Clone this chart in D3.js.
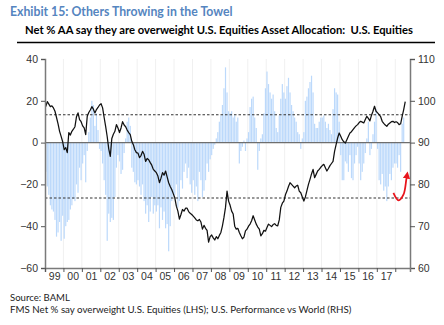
<!DOCTYPE html>
<html>
<head>
<meta charset="utf-8">
<script src="https://cdn.jsdelivr.net/npm/d3@7"></script>
<style>
  body { margin: 0; background: #fff; }
  svg { display: block; }
</style>
</head>
<body>
<div id="chart"></div>
<script>
// monthly FMS net % overweight U.S. equities (LHS), Jan 1999 ->
const fmsNet = [
  -14, -21, -25, -30, -32, -33, -37, -45, -43, -38, -47, -35,
  -46, -40, -38, -37, -32, -30, -27, -28, -20, -24, -12, -18,
  -10, -6, -19, -4, 5, 12, 20, 18, 8, 14, 6, -3,
  -4, -10, -18, -25, -47, -34, -38, -36, -37, -26, -12, -6,
  -9, -15, -13, -5, 2, 10, 12, 8, -12, -14, -19, -20,
  -18, -21, -25, -20, -28, -34, -30, -38, -33, -26, -34, -30,
  -33, -30, -41, -31, -37, -33, -41, -39, -52, -40, -28, -26,
  -25, -20, -31, -28, -18, -22, -14, -10, -17, -12, -20, -24,
  -18, -25, -21, -28, -14, -18, -26, -23, -18, -10, -14, -8,
  -6, -3, -1, 2, 5, 10, 13, 18, 26, 36, 24, 15,
  14, 15, 12, 13, 10, 12, -10, -4, -2, 1, -4, 2,
  5, 17, 21, 22, 12, 7, -13, -4, 2, 4, 14, 26,
  34, 28, 24, 21, 23, 15, 7, 5, 13, 21, 28, 24,
  21, 27, 31, 24, 18, 15, 12, 10, 5, 4, -3, 2,
  5, 20, 22, 26, 29, 32, 24, 9, 7, 7, 10, 12,
  12, 13, 10, 7, 9, 6, 4, 16, 26, 24, 23, 10,
  -6, -18, -18, -9, -10, -14, -6, -17, -18, -10, -6, -2,
  -10, -18, -14, -10, -5, 2, 10, -6, -3, 4, 10, 16,
  -3, -18, -20, -15, -23, -21, -28, -21, -15, -18, -12, -10,
  -10, -12, -6, -14, 9, 12
];

// monthly U.S. performance vs world (RHS), Jan 1999 ->
const usVsWorld = [
  98.6, 99.8, 99.2, 98.6, 98.8, 98.3, 97.5, 96.0, 94.5, 92.7, 91.5, 90.2,
  88.3, 88.8, 87.6, 92.4, 91.8, 92.7, 93.2, 93.8, 96.2, 97.1, 95.5, 95.0,
  94.0, 93.5, 91.9, 96.3, 97.2, 97.8, 98.6, 98.0, 97.1, 97.9, 98.4, 99.0,
  99.3, 98.3, 96.0, 93.8, 91.4, 88.5, 86.7, 91.0, 92.0, 92.7, 94.3, 93.5,
  92.4, 93.5, 95.0, 94.2, 93.8, 93.0, 92.4, 91.9, 90.3, 89.5, 88.3, 87.6,
  87.5, 86.4, 86.9, 87.9, 87.2, 85.5, 86.2, 85.9, 85.2, 84.6, 83.6, 83.2,
  82.8, 82.0, 80.4, 81.5, 82.8, 82.2, 83.2, 81.8, 80.4, 79.5, 78.8, 77.8,
  76.8, 74.8, 73.6, 71.7, 72.8, 74.0, 73.6, 74.3, 74.3, 73.5, 73.1, 72.8,
  72.4, 72.0, 71.5, 71.3, 71.6, 71.0, 69.3, 70.2, 69.5, 69.0, 66.2, 67.5,
  67.9, 67.2, 66.7, 67.5, 67.0, 67.8, 68.5, 70.1, 72.1, 74.5, 78.4, 76.0,
  75.0, 73.6, 72.9, 70.0, 69.3, 69.5, 68.5, 67.7, 67.0, 67.4, 68.9, 69.3,
  70.0, 70.5, 71.3, 72.5, 71.5, 70.5, 69.8, 69.3, 67.7, 68.2, 69.0, 68.8,
  69.7, 70.5, 70.2, 69.9, 70.4, 70.6, 70.2, 70.1, 71.5, 74.5, 75.5, 76.0,
  77.5, 78.4, 79.5, 80.4, 80.0, 79.6, 79.2, 79.6, 79.8, 78.4, 78.0, 77.0,
  76.0, 77.0, 78.5, 80.0, 81.2, 82.5, 83.6, 81.6, 82.4, 83.2, 83.6, 84.1,
  84.5, 84.8, 84.0, 83.2, 83.8, 84.5, 85.0, 85.5, 87.9, 89.5, 91.1, 92.3,
  91.5, 90.7, 90.2, 89.9, 90.7, 91.5, 92.3, 92.6, 93.1, 93.6, 94.0, 94.3,
  94.8, 95.1, 94.9, 94.7, 95.5, 96.3, 95.8, 95.2, 96.5, 97.5, 98.7, 97.5,
  97.1, 96.7, 96.2, 95.1, 94.6, 94.2, 93.9, 94.4, 94.7, 95.0, 95.1, 94.8,
  95.0, 94.8, 94.3, 94.5, 96.3, 97.9, 99.8
];

const yearLabels = ["99","00","01","02","03","04","05","06","07","08",
                    "09","10","11","12","13","14","15","16","17"];
const leftTicks = [-60, -40, -20, 0, 20, 40];
const rightTicks = [60, 70, 80, 90, 100, 110];
const refLevels = [13.3, -26.5];   // dotted lines, LHS units
// red annotation arrow, [year, LHS value]
const arrowPts = [[2017.9, -24], [2018.18, -27.6], [2018.45, -24.8], [2018.6, -17.6], [2018.64, -15.5]];

const width = 444;
const height = 325;
const startYear = 1999;

const svg = d3.select("#chart").append("svg")
  .attr("width", width)
  .attr("height", height);

const x = d3.scaleLinear().domain([1999, 2018.8]).range([45, 410]);
const yL = d3.scaleLinear().domain([-60, 40]).range([268, 59]);
const yR = d3.scaleLinear().domain([60, 110]).range([268, 59]);

// fit a text element to a given width
function fitText(sel, w) {
  const len = sel.node().getComputedTextLength();
  const fs = parseFloat(sel.attr("font-size"));
  sel.attr("font-size", fs * w / len);
}

// title block
const title = svg.append("text")
  .attr("x", 10).attr("y", 16)
  .attr("font-family", "Lato, 'Open Sans', sans-serif")
  .attr("font-weight", "bold")
  .attr("font-size", 14)
  .attr("fill", "#5585c0")
  .text("Exhibit 15: Others Throwing in the Towel");
fitText(title, 223);

const sub = svg.append("text")
  .attr("x", 25).attr("y", 34)
  .attr("font-family", "Lato, 'Open Sans', sans-serif")
  .attr("font-weight", "bold")
  .attr("font-size", 12)
  .attr("fill", "#000")
  .text("Net % AA say they are overweight U.S. Equities Asset Allocation:  U.S. Equities")
  .style("white-space", "pre");
fitText(sub, 388);

svg.append("line")
  .attr("x1", 17).attr("x2", 435)
  .attr("y1", 42.5).attr("y2", 42.5)
  .attr("stroke", "#000").attr("stroke-width", 1.3);

// faint year gridlines
svg.append("g")
  .selectAll("line")
  .data(d3.range(2000, 2019))
  .join("line")
  .attr("x1", d => x(d)).attr("x2", d => x(d))
  .attr("y1", yL(40)).attr("y2", yL(-60))
  .attr("stroke", "#f0f0f0").attr("stroke-width", 1);

// bars
svg.append("g")
  .selectAll("rect")
  .data(fmsNet)
  .join("rect")
  .attr("x", (d, i) => x(startYear + i / 12 + 1 / 24) - 0.6)
  .attr("width", 1.2)
  .attr("y", d => Math.min(yL(d), yL(0)))
  .attr("height", d => Math.abs(yL(d) - yL(0)))
  .attr("fill", "#bcd9fb");

// zero line
svg.append("line")
  .attr("x1", x.range()[0]).attr("x2", x.range()[1])
  .attr("y1", yL(0)).attr("y2", yL(0))
  .attr("stroke", "#6e6e6e").attr("stroke-width", 1.3);

// dotted reference lines
svg.append("g")
  .selectAll("line")
  .data(refLevels)
  .join("line")
  .attr("x1", x.range()[0]).attr("x2", x.range()[1])
  .attr("y1", d => yL(d)).attr("y2", d => yL(d))
  .attr("stroke", "#333").attr("stroke-width", 1.1)
  .attr("stroke-dasharray", "2.5,2");

// performance line
const line = d3.line()
  .x((d, i) => x(startYear + i / 12 + 1 / 24))
  .y(d => yR(d));

svg.append("path")
  .datum(usVsWorld)
  .attr("d", line)
  .attr("fill", "none")
  .attr("stroke", "#111")
  .attr("stroke-width", 1.25)
  .attr("stroke-linejoin", "round");

// axes
const tickFont = "'Liberation Sans', Arial, sans-serif";

const leftAxis = svg.append("g")
  .attr("transform", `translate(${x.range()[0]},0)`)
  .call(d3.axisLeft(yL).tickValues(leftTicks).tickSize(4).tickPadding(3));

const rightAxis = svg.append("g")
  .attr("transform", `translate(${x.range()[1]},0)`)
  .call(d3.axisRight(yR).tickValues(rightTicks).tickSize(5).tickPadding(3));

const bottomMarks = svg.append("g")
  .attr("transform", `translate(0,${yL(-60)})`)
  .call(d3.axisBottom(x).tickValues(d3.range(1999, 2019)).tickSize(4).tickFormat(""));

const bottomLabels = svg.append("g")
  .attr("transform", `translate(0,${yL(-60)})`)
  .call(d3.axisBottom(x)
    .tickValues(yearLabels.map((d, i) => 1999.5 + i))
    .tickSize(0).tickPadding(5)
    .tickFormat((d, i) => yearLabels[i]));
bottomLabels.select(".domain").remove();

[leftAxis, rightAxis, bottomMarks].forEach(g => {
  g.select(".domain").attr("stroke", "#7a7a7a").attr("stroke-width", 1.5);
  g.selectAll(".tick line").attr("stroke", "#555");
});
[leftAxis, rightAxis, bottomLabels].forEach(g => {
  g.selectAll("text")
    .attr("font-family", tickFont)
    .attr("font-size", 10.5)
    .attr("fill", "#333");
});

// red annotation arrow
svg.append("defs").append("marker")
  .attr("id", "arrowhead")
  .attr("viewBox", "0 0 10 10")
  .attr("refX", 5).attr("refY", 5)
  .attr("markerWidth", 4).attr("markerHeight", 4)
  .attr("orient", "auto")
  .append("path")
  .attr("d", "M0,0 L10,5 L0,10 Z")
  .attr("fill", "#e8141c");

svg.append("path")
  .datum(arrowPts)
  .attr("d", d3.line().x(d => x(d[0])).y(d => yL(d[1])).curve(d3.curveCatmullRom))
  .attr("fill", "none")
  .attr("stroke", "#e8141c")
  .attr("stroke-width", 1.8)
  .attr("marker-end", "url(#arrowhead)");

// footer
const noteFont = "Lato, 'Open Sans', sans-serif";
const src = svg.append("text")
  .attr("x", 10).attr("y", 301)
  .attr("font-family", noteFont)
  .attr("font-size", 11)
  .attr("fill", "#222")
  .text("Source: BAML");
fitText(src, 60);

const note = svg.append("text")
  .attr("x", 10).attr("y", 313)
  .attr("font-family", noteFont)
  .attr("font-size", 11)
  .attr("fill", "#222")
  .text("FMS Net % say overweight U.S. Equities (LHS); U.S. Performance vs World (RHS)");
fitText(note, 342);
</script>
</body>
</html>
